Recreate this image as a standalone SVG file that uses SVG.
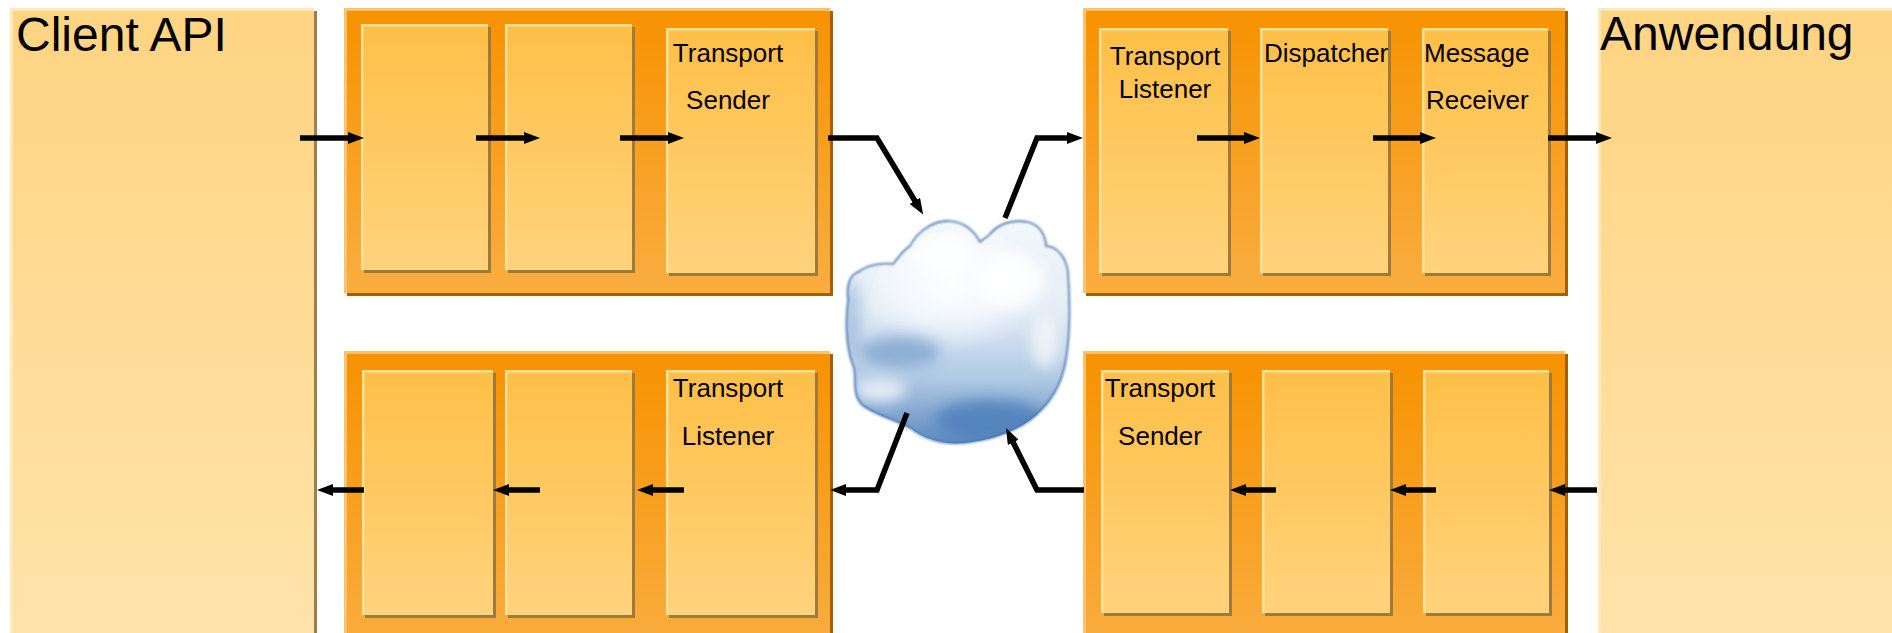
<svg xmlns="http://www.w3.org/2000/svg" width="1892" height="633" viewBox="0 0 1892 633">
<style>
.lbl{font-family:"Liberation Sans",Arial,sans-serif;font-size:26px;fill:#000}
.big{font-family:"Liberation Sans",Arial,sans-serif;font-size:48px;fill:#000}
.osh{fill:#A35F00}
.outer{fill:url(#gOuter)}
.ohl{fill:none;stroke:#FBC26E;stroke-width:3}
.ish{fill:#9E7B3C}
.inner{fill:url(#gInner)}
.ihl{fill:none;stroke:#FFE09C;stroke-width:2.5}
.psh{fill:#9C7F4C}
.panel{fill:url(#gPanel)}
.phl{fill:none;stroke:#FFE8BC;stroke-width:3}
.con{fill:none;stroke:#000;stroke-width:5.5;stroke-linejoin:miter;marker-end:url(#ah)}
</style>
<defs>
<linearGradient id="gOuter" x1="0" y1="0" x2="0" y2="1">
<stop offset="0" stop-color="#F79200"/>
<stop offset="1" stop-color="#F9AD40"/>
</linearGradient>
<linearGradient id="gInner" x1="0" y1="0" x2="0" y2="1">
<stop offset="0" stop-color="#FFBF47"/>
<stop offset="1" stop-color="#FFD37C"/>
</linearGradient>
<linearGradient id="gPanel" x1="0" y1="0" x2="0" y2="1">
<stop offset="0" stop-color="#FFD482"/>
<stop offset="1" stop-color="#FFE3AB"/>
</linearGradient>
<linearGradient id="gCloud" x1="0" y1="0" x2="0" y2="1">
<stop offset="0" stop-color="#F4F8FB"/>
<stop offset="0.4" stop-color="#E4EDF6"/>
<stop offset="0.7" stop-color="#AFC8E3"/>
<stop offset="1" stop-color="#5383BC"/>
</linearGradient>
<radialGradient id="gCloudHi" cx="0.45" cy="0.38" r="0.5">
<stop offset="0" stop-color="#FFFFFF" stop-opacity="0.95"/>
<stop offset="0.6" stop-color="#FFFFFF" stop-opacity="0.5"/>
<stop offset="1" stop-color="#FFFFFF" stop-opacity="0"/>
</radialGradient>
<filter id="soft" x="-10%" y="-10%" width="120%" height="120%">
<feGaussianBlur stdDeviation="1"/>
</filter>
<filter id="blur6" x="-30%" y="-30%" width="160%" height="160%">
<feGaussianBlur stdDeviation="7"/>
</filter>
<clipPath id="cloudClip">
<path d="M848,300 C846,285 850,275 858,272 C866,266 880,262 893,264 C898,258 903,250 910,246 C918,230 935,220 950,221 C965,222 975,232 980,242 C985,238 988,236 990,234 C998,224 1012,219 1028,222 C1040,225 1046,236 1046,246 C1056,246 1066,256 1068,272 C1070,300 1071,330 1066,360 C1062,385 1050,405 1030,420 C1012,433 990,440 965,443 C945,445 925,440 910,428 C895,420 875,415 862,405 C852,395 856,380 854,368 C848,355 844,330 848,300 Z"/>
</clipPath>
<marker id="ah" markerUnits="userSpaceOnUse" markerWidth="16" markerHeight="12" refX="6" refY="6" orient="auto">
<path d="M0,0 L16,6 L0,12 Z" fill="#000"/>
</marker>
</defs>

<g id="client-api">
<rect class="psh" x="13" y="11" width="304" height="640"/>
<rect class="panel" x="10" y="8" width="304" height="640"/>
<polyline class="phl" points="11.5,640 11.5,9.5 314,9.5"/>
<text class="big" x="16" y="51">Client API</text>
</g>

<g id="anwendung">
<rect class="panel" x="1598" y="8" width="310" height="640"/>
<polyline class="phl" points="1599.5,640 1599.5,9.5 1892,9.5"/>
<text class="big" x="1600" y="50">Anwendung</text>
</g>

<g id="client-out-pipeline">
<rect class="osh" x="347" y="11" width="486" height="285"/>
<rect class="outer" x="344" y="8" width="486" height="285"/>
<polyline class="ohl" points="345.5,293 345.5,9.5 830,9.5"/>
<g id="client-out-h1">
<rect class="ish" x="364" y="27" width="127" height="246"/>
<rect class="inner" x="361" y="24" width="127" height="246"/>
<polyline class="ihl" points="362.2,270 362.2,25.2 488,25.2"/>
</g>
<g id="client-out-h2">
<rect class="ish" x="508" y="27" width="127" height="246"/>
<rect class="inner" x="505" y="24" width="127" height="246"/>
<polyline class="ihl" points="506.2,270 506.2,25.2 632,25.2"/>
</g>
<g id="client-transport-sender">
<rect class="ish" x="669" y="31" width="149" height="245"/>
<rect class="inner" x="666" y="28" width="149" height="245"/>
<polyline class="ihl" points="667.2,273 667.2,29.2 815,29.2"/>
<text class="lbl" x="728" y="62" text-anchor="middle">Transport</text>
<text class="lbl" x="728" y="109" text-anchor="middle">Sender</text>
</g>
</g>

<g id="client-in-pipeline">
<rect class="osh" x="347" y="354" width="486" height="300"/>
<rect class="outer" x="344" y="351" width="486" height="300"/>
<polyline class="ohl" points="345.5,640 345.5,352.5 830,352.5"/>
<g id="client-in-h1">
<rect class="ish" x="365" y="373" width="131" height="245"/>
<rect class="inner" x="362" y="370" width="131" height="245"/>
<polyline class="ihl" points="363.2,615 363.2,371.2 493,371.2"/>
</g>
<g id="client-in-h2">
<rect class="ish" x="508" y="373" width="127" height="245"/>
<rect class="inner" x="505" y="370" width="127" height="245"/>
<polyline class="ihl" points="506.2,615 506.2,371.2 632,371.2"/>
</g>
<g id="client-transport-listener">
<rect class="ish" x="669" y="373" width="149" height="245"/>
<rect class="inner" x="666" y="370" width="149" height="245"/>
<polyline class="ihl" points="667.2,615 667.2,371.2 815,371.2"/>
<text class="lbl" x="728" y="397" text-anchor="middle">Transport</text>
<text class="lbl" x="728" y="445" text-anchor="middle">Listener</text>
</g>
</g>

<g id="server-in-pipeline">
<rect class="osh" x="1086" y="11" width="482" height="285"/>
<rect class="outer" x="1083" y="8" width="482" height="285"/>
<polyline class="ohl" points="1084.5,293 1084.5,9.5 1565,9.5"/>
<g id="server-transport-listener">
<rect class="ish" x="1102" y="31" width="129" height="245"/>
<rect class="inner" x="1099" y="28" width="129" height="245"/>
<polyline class="ihl" points="1100.2,273 1100.2,29.2 1228,29.2"/>
<text class="lbl" x="1165" y="65" text-anchor="middle">Transport</text>
<text class="lbl" x="1165" y="98" text-anchor="middle">Listener</text>
</g>
<g id="dispatcher">
<rect class="ish" x="1263" y="31" width="128" height="245"/>
<rect class="inner" x="1260" y="28" width="128" height="245"/>
<polyline class="ihl" points="1261.2,273 1261.2,29.2 1388,29.2"/>
<text class="lbl" x="1264" y="62">Dispatcher</text>
</g>
<g id="message-receiver">
<rect class="ish" x="1425" y="31" width="126" height="245"/>
<rect class="inner" x="1422" y="28" width="126" height="245"/>
<polyline class="ihl" points="1423.2,273 1423.2,29.2 1548,29.2"/>
<text class="lbl" x="1424" y="62">Message</text>
<text class="lbl" x="1426" y="109">Receiver</text>
</g>
</g>

<g id="server-out-pipeline">
<rect class="osh" x="1086" y="354" width="482" height="300"/>
<rect class="outer" x="1083" y="351" width="482" height="300"/>
<polyline class="ohl" points="1084.5,640 1084.5,352.5 1565,352.5"/>
<g id="server-transport-sender">
<rect class="ish" x="1104" y="373" width="128" height="243"/>
<rect class="inner" x="1101" y="370" width="128" height="243"/>
<polyline class="ihl" points="1102.2,613 1102.2,371.2 1229,371.2"/>
<text class="lbl" x="1160" y="397" text-anchor="middle">Transport</text>
<text class="lbl" x="1160" y="445" text-anchor="middle">Sender</text>
</g>
<g id="server-out-h2">
<rect class="ish" x="1265" y="373" width="128" height="243"/>
<rect class="inner" x="1262" y="370" width="128" height="243"/>
<polyline class="ihl" points="1263.2,613 1263.2,371.2 1390,371.2"/>
</g>
<g id="server-out-h3">
<rect class="ish" x="1426" y="373" width="126" height="243"/>
<rect class="inner" x="1423" y="370" width="126" height="243"/>
<polyline class="ihl" points="1424.2,613 1424.2,371.2 1549,371.2"/>
</g>
</g>

<g id="network-cloud">
<g clip-path="url(#cloudClip)">
<rect x="840" y="215" width="240" height="235" fill="url(#gCloud)"/>
<ellipse cx="960" cy="300" rx="90" ry="70" fill="url(#gCloudHi)"/>
<g filter="url(#blur6)" opacity="0.85">
<ellipse cx="1010" cy="280" rx="35" ry="28" fill="#FFFFFF"/>
<ellipse cx="945" cy="255" rx="30" ry="20" fill="#FFFFFF"/>
<ellipse cx="880" cy="390" rx="26" ry="12" fill="#EEF4FA"/>
<ellipse cx="1045" cy="340" rx="14" ry="28" fill="#F2F6FA"/>
<ellipse cx="900" cy="352" rx="40" ry="16" fill="#86A8D2"/>
<ellipse cx="990" cy="420" rx="55" ry="20" fill="#4F80BA"/>
<ellipse cx="852" cy="320" rx="8" ry="40" fill="#9DB9DC"/>
</g>
</g>
<path d="M848,300 C846,285 850,275 858,272 C866,266 880,262 893,264 C898,258 903,250 910,246 C918,230 935,220 950,221 C965,222 975,232 980,242 C985,238 988,236 990,234 C998,224 1012,219 1028,222 C1040,225 1046,236 1046,246 C1056,246 1066,256 1068,272 C1070,300 1071,330 1066,360 C1062,385 1050,405 1030,420 C1012,433 990,440 965,443 C945,445 925,440 910,428 C895,420 875,415 862,405 C852,395 856,380 854,368 C848,355 844,330 848,300 Z" fill="none" stroke="#3F70AC" stroke-width="1.6" filter="url(#soft)"/>
</g>

<g id="connectors">
<path class="con" d="M300,138 H354"/>
<path class="con" d="M476,138 H530"/>
<path class="con" d="M620,138 H674"/>
<path class="con" d="M828,138 H877 L918,206"/>
<path class="con" d="M1005,218 L1037,138 H1073"/>
<path class="con" d="M1197,138 H1250"/>
<path class="con" d="M1373,138 H1426"/>
<path class="con" d="M1548,138 H1602"/>
<path class="con" d="M364,490 H327"/>
<path class="con" d="M540,490 H503"/>
<path class="con" d="M684,490 H647"/>
<path class="con" d="M907,413 L877,490 H840"/>
<path class="con" d="M1084,490 H1037 L1010.5,437"/>
<path class="con" d="M1276,490 H1240"/>
<path class="con" d="M1436,490 H1400"/>
<path class="con" d="M1597,490 H1559"/>
</g>
</svg>
